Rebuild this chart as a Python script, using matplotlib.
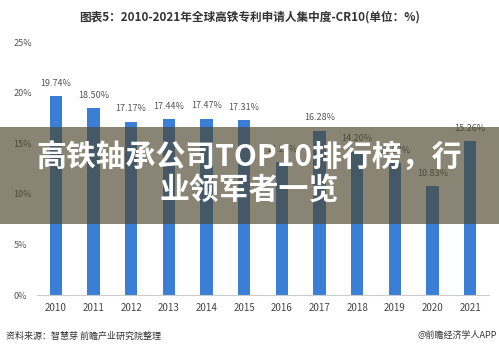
import matplotlib
matplotlib.use("Agg")
import matplotlib.pyplot as plt
from matplotlib.patches import Rectangle

plt.rcParams['font.family'] = ['Noto Sans CJK SC', 'DejaVu Sans']

years = ['2010', '2011', '2012', '2013', '2014', '2015', '2016', '2017', '2018', '2019', '2020', '2021']
values = [19.74, 18.50, 17.17, 17.44, 17.47, 17.31, 13.20, 16.28, 14.20, 13.03, 10.83, 15.26]
yticks = [0, 5, 10, 15, 20, 25]
ytick_labels = ['0%', '5%', '10%', '15%', '20%', '25%']

fig = plt.figure(figsize=(4.99, 3.51), dpi=100)
ax = fig.add_axes([0.074, 0.1595, 0.906, 0.7195])
x = list(range(len(years)))
ax.bar(x, values, width=0.33, color='#3a7fd5', zorder=2)
for xi, v in zip(x, values):
    ax.text(xi, v + 0.8, f'{v:.2f}%', ha='center', va='bottom', fontsize=6.5, color='#555555')

ax.set_xlim(-0.5, len(years) - 0.5)
ax.set_ylim(0, 25)
ax.set_xticks(x)
ax.set_xticklabels(years, fontsize=7, color='#444444')
ax.set_yticks(yticks)
ax.set_yticklabels(ytick_labels, fontsize=6.5, color='#555555')
for lab in ax.get_yticklabels():
    lab.set_horizontalalignment('left')
ax.tick_params(axis='y', length=0, pad=17)
ax.tick_params(axis='x', length=0, pad=6)
for s in ['top', 'right', 'left']:
    ax.spines[s].set_visible(False)
ax.spines['bottom'].set_color('#cccccc')
ax.spines['bottom'].set_linewidth(0.8)

fig.text(0.5, 0.952, '图表5：2010-2021年全球高铁专利申请人集中度-CR10(单位：%)',
         ha='center', va='center', fontsize=8.4, fontweight='bold', color='#333333')
fig.text(0.012, 0.043, '资料来源：智慧芽 前瞻产业研究院整理', ha='left', va='center',
         fontsize=6.5, color='#333333')
fig.text(0.995, 0.043, '@前瞻经济学人APP', ha='right', va='center',
         fontsize=6.5, color='#333333')

# overlay band
fig.patches.append(Rectangle((0, 1 - 224/351), 1, (224 - 127)/351, transform=fig.transFigure,
                             facecolor=(76/255, 67/255, 43/255), alpha=0.65, zorder=5))
fig.text(0.5, 1 - 157/351, '高铁轴承公司TOP10排行榜，行', ha='center', va='center',
         fontsize=21.5, fontweight='bold', color='white', zorder=6)
fig.text(0.5, 1 - 190/351, '业领军者一览', ha='center', va='center',
         fontsize=21.5, fontweight='bold', color='white', zorder=6)

fig.savefig('out.png', dpi=100)
